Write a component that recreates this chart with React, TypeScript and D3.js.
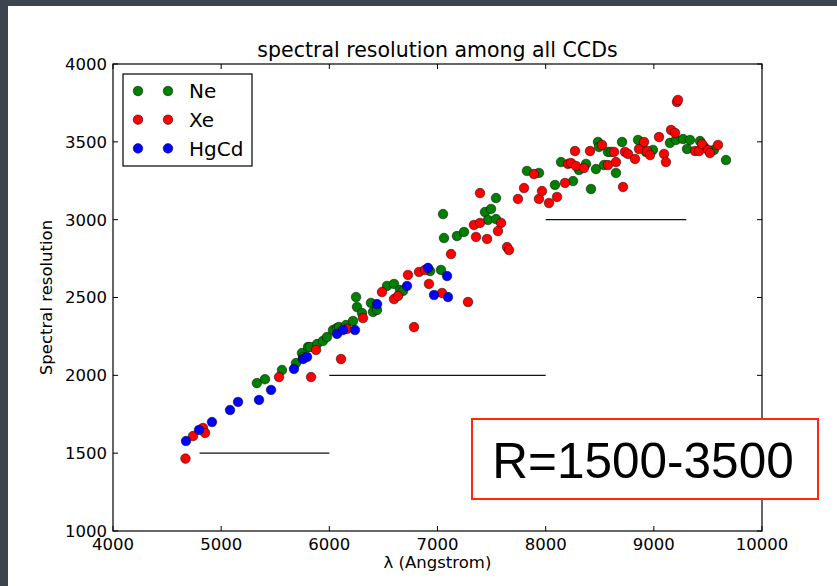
import React from "react";
import * as d3 from "d3";

const xTicks = [4000, 5000, 6000, 7000, 8000, 9000, 10000];
const yTicks = [1000, 1500, 2000, 2500, 3000, 3500, 4000];

const neData: [number, number][] = [
  [5330, 1950], [5405, 1975], [5562, 2034], [5692, 2079], [5747, 2143], [5757, 2118],
  [5803, 2182], [5821, 2182], [5886, 2201], [5941, 2221], [5978, 2246], [6034, 2291],
  [6071, 2304], [6089, 2310], [6154, 2323], [6219, 2349], [6247, 2503], [6256, 2439],
  [6302, 2400], [6385, 2465], [6404, 2407], [6441, 2420], [6533, 2574], [6598, 2587],
  [6653, 2548], [6681, 2542], [6931, 2670], [7032, 2677], [7051, 3036], [7060, 2882],
  [7180, 2895], [7245, 2921], [7439, 3049], [7495, 3069], [7467, 2998], [7541, 3004],
  [7541, 3139], [7827, 3313], [7938, 3300], [8086, 3223], [8142, 3370], [8253, 3248],
  [8308, 3319], [8373, 3358], [8419, 3197], [8465, 3325], [8484, 3499], [8493, 3467],
  [8539, 3351], [8576, 3435], [8604, 3435], [8650, 3300], [8706, 3499], [8854, 3512],
  [8928, 3435], [8992, 3448], [9149, 3493], [9205, 3512], [9270, 3518], [9334, 3512],
  [9307, 3454], [9427, 3505], [9464, 3467], [9556, 3448], [9667, 3383],
];

const xeData: [number, number][] = [
  [4670, 1465], [4740, 1610], [4832, 1662], [4851, 1630], [5535, 1989], [5831, 1989],
  [5877, 2163], [6108, 2105], [6163, 2298], [6311, 2368], [6487, 2535], [6598, 2490],
  [6635, 2510], [6727, 2645], [6783, 2310], [6829, 2664], [6884, 2677], [6921, 2587],
  [7042, 2529], [7282, 2471], [7125, 2779], [7337, 2966], [7393, 2979], [7356, 2889],
  [7458, 2876], [7393, 3171], [7587, 2979], [7559, 2927], [7643, 2824], [7661, 2805],
  [7744, 3133], [7800, 3203], [7892, 3293], [7938, 3133], [7966, 3184], [8031, 3107],
  [8105, 3146], [8179, 3236], [8206, 3358], [8234, 3364], [8280, 3345], [8271, 3441],
  [8354, 3332], [8410, 3441], [8521, 3480], [8576, 3351], [8632, 3435], [8650, 3370],
  [8715, 3210], [8733, 3435], [8761, 3422], [8826, 3390], [8863, 3454], [8909, 3499],
  [8937, 3441], [8965, 3415], [9048, 3531], [9094, 3422], [9112, 3370], [9159, 3576],
  [9196, 3557], [9214, 3756], [9223, 3769], [9381, 3441], [9418, 3441], [9445, 3486],
  [9501, 3448], [9519, 3428], [9593, 3480],
];

const hgData: [number, number][] = [
  [4675, 1578], [4795, 1649], [4915, 1700], [5082, 1777], [5156, 1829], [5350, 1842],
  [5461, 1906], [5673, 2041], [5757, 2105], [5794, 2118], [6071, 2266], [6126, 2291],
  [6237, 2291], [6441, 2458], [6718, 2574], [6912, 2690], [6968, 2516], [7088, 2638],
  [7097, 2503],
];

const seriesNames = ["Ne", "Xe", "HgCd"];
const seriesColors = ["#008000", "#ff0000", "#0000ff"];
const seriesData = [neData, xeData, hgData];

const refLines: [number, number, number][] = [
  [4800, 6000, 1500],
  [6000, 8000, 2000],
  [8000, 9300, 3000],
];

const W = 837;
const H = 586;
const left = 113, right = 762, top = 64, bottom = 531;

export default function App() {
  const x = d3.scaleLinear().domain([4000, 10000]).range([left, right]);
  const y = d3.scaleLinear().domain([1000, 4000]).range([bottom, top]);
  const font = "'DejaVu Sans', sans-serif";
  const tl = 5;

  return (
    <svg width={W} height={H} style={{ position: "absolute", left: 0, top: 0, display: "block" }}>
      <rect x={0} y={0} width={W} height={H} fill="#3d444e" />
      <rect x={8} y={6} width={W - 8} height={H - 6} fill="#ffffff" />

      <text x={(left + right) / 2} y={57} textAnchor="middle" fontFamily={font} fontSize={20.5} fill="#000">
        spectral resolution among all CCDs
      </text>

      {refLines.map((l, i) => (
        <line key={"r" + i} x1={x(l[0])} x2={x(l[1])} y1={y(l[2])} y2={y(l[2])} stroke="#111" strokeWidth={1.2} />
      ))}

      {seriesData.map((data, si) => (
        <g key={"s" + si}>
          {data.map((d, i) => (
            <circle key={i} cx={x(d[0])} cy={y(d[1])} r={4.8} fill={seriesColors[si]} stroke="#000" strokeWidth={0.5} />
          ))}
        </g>
      ))}

      <rect x={left} y={top} width={right - left} height={bottom - top} fill="none" stroke="#000" strokeWidth={1.2} />

      {xTicks.map((t) => (
        <g key={"xt" + t}>
          <line x1={x(t)} x2={x(t)} y1={bottom} y2={bottom - tl} stroke="#000" strokeWidth={1} />
          <line x1={x(t)} x2={x(t)} y1={top} y2={top + tl} stroke="#000" strokeWidth={1} />
          <text x={x(t)} y={550} textAnchor="middle" fontFamily={font} fontSize={16.5} fill="#000">
            {t}
          </text>
        </g>
      ))}
      {yTicks.map((t) => (
        <g key={"yt" + t}>
          <line x1={left} x2={left + tl} y1={y(t)} y2={y(t)} stroke="#000" strokeWidth={1} />
          <line x1={right} x2={right - tl} y1={y(t)} y2={y(t)} stroke="#000" strokeWidth={1} />
          <text x={107} y={y(t)} dy="0.36em" textAnchor="end" fontFamily={font} fontSize={16.5} fill="#000">
            {t}
          </text>
        </g>
      ))}

      <text x={(left + right) / 2} y={568} textAnchor="middle" fontFamily={font} fontSize={16.5} fill="#000">
        λ (Angstrom)
      </text>
      <text
        transform={`translate(52, ${(top + bottom) / 2}) rotate(-90)`}
        textAnchor="middle"
        fontFamily={font}
        fontSize={16.5}
        fill="#000"
      >
        Spectral resolution
      </text>

      <g>
        <rect x={123} y={74} width={129} height={92} fill="#fff" stroke="#000" strokeWidth={1.2} />
        {seriesNames.map((n, i) => (
          <g key={"lg" + i}>
            <circle cx={138} cy={91 + i * 28.7} r={4.8} fill={seriesColors[i]} stroke="#000" strokeWidth={0.5} />
            <circle cx={168} cy={91 + i * 28.7} r={4.8} fill={seriesColors[i]} stroke="#000" strokeWidth={0.5} />
            <text x={189} y={91 + i * 28.7} dy="0.36em" fontFamily={font} fontSize={20} fill="#000">
              {n}
            </text>
          </g>
        ))}
      </g>

      <rect x={472} y={419} width={346} height={80} fill="#fff" stroke="#ff2a0a" strokeWidth={2} />
      <text x={643} y={478} textAnchor="middle" fontFamily="'Liberation Sans', Arial, sans-serif" fontSize={49.5} fill="#000">
        R=1500-3500
      </text>
    </svg>
  );
}
